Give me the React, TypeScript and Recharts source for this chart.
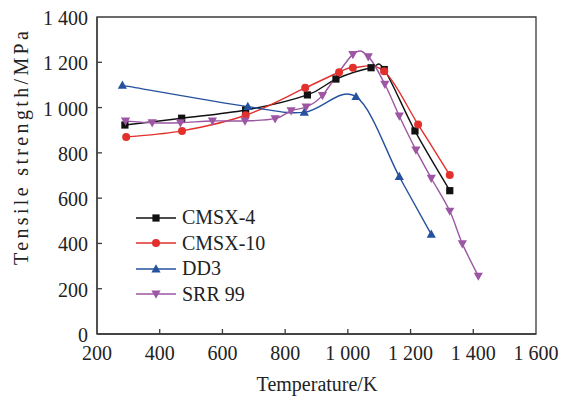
import { LineChart, Line, XAxis, YAxis, ReferenceArea, Label } from 'recharts';

// temperature (K) / tensile strength (MPa)
const cmsx4 = [
  { t: 289, v: 923 }, { t: 470, v: 953 }, { t: 674, v: 989 }, { t: 871, v: 1056 },
  { t: 962, v: 1126 }, { t: 1074, v: 1176 }, { t: 1116, v: 1168 }, { t: 1214, v: 897 },
  { t: 1325, v: 633 },
];
const cmsx10 = [
  { t: 293, v: 870 }, { t: 471, v: 897 }, { t: 674, v: 966 }, { t: 864, v: 1087 },
  { t: 972, v: 1156 }, { t: 1016, v: 1176 }, { t: 1116, v: 1160 }, { t: 1224, v: 925 },
  { t: 1325, v: 702 },
];
const dd3 = [
  { t: 281, v: 1098 }, { t: 681, v: 1004 }, { t: 861, v: 979 }, { t: 1026, v: 1048 },
  { t: 1164, v: 695 }, { t: 1266, v: 440 },
];
const srr99 = [
  { t: 291, v: 941 }, { t: 376, v: 933 }, { t: 466, v: 933 }, { t: 568, v: 941 },
  { t: 672, v: 941 }, { t: 768, v: 951 }, { t: 819, v: 986 }, { t: 867, v: 1003 },
  { t: 919, v: 1054 }, { t: 1016, v: 1235 }, { t: 1065, v: 1225 }, { t: 1118, v: 1103 },
  { t: 1164, v: 963 }, { t: 1217, v: 813 }, { t: 1266, v: 688 }, { t: 1325, v: 543 },
  { t: 1365, v: 399 }, { t: 1416, v: 256 },
];
const xTicks = [200, 400, 600, 800, 1000, 1200, 1400, 1600];
const yTicks = [0, 200, 400, 600, 800, 1000, 1200, 1400];

const FONT = '"Liberation Serif", "Times New Roman", serif';
const AXIS = '#3a3a3a';

const series = [
  { name: 'CMSX-4', data: cmsx4, color: '#111111', shape: 'square' },
  { name: 'CMSX-10', data: cmsx10, color: '#e2302d', shape: 'circle' },
  { name: 'DD3', data: dd3, color: '#25529e', shape: 'up' },
  { name: 'SRR 99', data: srr99, color: '#9c56a3', shape: 'down' },
];

const fmt = (n: number) => String(n).replace(/\B(?=(\d{3})+(?!\d))/g, '\u00a0');

// excel-like smoothed line (catmull-rom style bezier)
function smooth(context: any) {
  let pts: number[][] = [];
  return {
    areaStart() {},
    areaEnd() {},
    lineStart() { pts = []; },
    point(x: number, y: number) { pts.push([+x, +y]); },
    lineEnd() {
      if (!pts.length) return;
      context.moveTo(pts[0][0], pts[0][1]);
      for (let i = 0; i < pts.length - 1; i++) {
        const p0 = pts[i - 1] || pts[i];
        const p1 = pts[i];
        const p2 = pts[i + 1];
        const p3 = pts[i + 2] || p2;
        context.bezierCurveTo(
          p1[0] + (p2[0] - p0[0]) / 6, p1[1] + (p2[1] - p0[1]) / 6,
          p2[0] - (p3[0] - p1[0]) / 6, p2[1] - (p3[1] - p1[1]) / 6,
          p2[0], p2[1],
        );
      }
    },
  };
}

function Marker({ shape, x, y, color }: { shape: string; x: number; y: number; color: string }) {
  if (shape === 'square') return <rect x={x - 3.6} y={y - 3.6} width={7.2} height={7.2} fill={color} />;
  if (shape === 'circle') return <circle cx={x} cy={y} r={4} fill={color} />;
  if (shape === 'up') return <path d={`M${x},${y - 4.8}L${x + 4.6},${y + 3.4}L${x - 4.6},${y + 3.4}Z`} fill={color} />;
  return <path d={`M${x},${y + 4.8}L${x + 4.6},${y - 3.4}L${x - 4.6},${y - 3.4}Z`} fill={color} />;
}

const XTick = ({ x, y, payload }: any) => (
  <g>
    {payload.value !== 200 && payload.value !== 1600 && (
      <line x1={x} y1={y} x2={x} y2={y - 5} stroke={AXIS} strokeWidth={1.3} />
    )}
    <text x={x} y={y + 26} textAnchor="middle" fontFamily={FONT} fontSize={20} fill="#222">
      {fmt(payload.value)}
    </text>
  </g>
);

const YTick = ({ x, y, payload }: any) => (
  <g>
    {payload.value !== 0 && payload.value !== 1400 && (
      <line x1={x} y1={y} x2={x + 5} y2={y} stroke={AXIS} strokeWidth={1.3} />
    )}
    <text x={x - 9} y={y + 8} textAnchor="end" fontFamily={FONT} fontSize={20} fill="#222">
      {fmt(payload.value)}
    </text>
  </g>
);

const LegendBox = () => (
  <div
    style={{
      position: 'absolute', left: 136, top: 205,
      fontFamily: FONT, fontSize: 20, color: '#222', lineHeight: '25.5px',
    }}
  >
    {series.map(s => (
      <div key={s.name} style={{ display: 'flex', alignItems: 'center', height: 25.5 }}>
        <svg width={42} height={14} style={{ marginRight: 4 }}>
          <line x1={0} y1={7} x2={40} y2={7} stroke={s.color} strokeWidth={1.4} />
          <Marker shape={s.shape} x={20} y={7} color={s.color} />
        </svg>
        <span>{s.name}</span>
      </div>
    ))}
  </div>
);

export default function App() {
  return (
    <div style={{ position: 'absolute', left: 0, top: 0, width: 563, height: 396, background: '#fff' }}>
      <LineChart width={563} height={396} margin={{ top: 17, right: 27, left: 0, bottom: 0 }}>
        <XAxis
          type="number"
          dataKey="t"
          domain={[200, 1600]}
          ticks={xTicks}
          allowDataOverflow
          height={62}
          tickSize={0}
          tickMargin={0}
          tickLine={false}
          axisLine={{ stroke: AXIS, strokeWidth: 1.3 }}
          tick={<XTick />}
        >
          <Label
            content={() => (
              <text x={317} y={391} textAnchor="middle" fontFamily={FONT} fontSize={20} fill="#222">
                Temperature/K
              </text>
            )}
          />
        </XAxis>
        <YAxis
          type="number"
          dataKey="v"
          domain={[0, 1400]}
          ticks={yTicks}
          allowDataOverflow
          width={97}
          tickSize={0}
          tickMargin={0}
          tickLine={false}
          axisLine={{ stroke: AXIS, strokeWidth: 1.3 }}
          tick={<YTick />}
        >
          <Label
            content={() => (
              <text
                x={0}
                y={0}
                transform="translate(28,148) rotate(-90)"
                textAnchor="middle"
                fontFamily={FONT}
                fontSize={20}
                fill="#222"
                textLength={234}
                lengthAdjust="spacing"
              >
                Tensile strength/MPa
              </text>
            )}
          />
        </YAxis>
        <ReferenceArea x1={200} x2={1600} y1={0} y2={1400} fill="none" stroke={AXIS} strokeWidth={1.3} />
        {series.map(s => (
          <Line
            key={s.name}
            name={s.name}
            data={s.data}
            dataKey="v"
            type={smooth as any}
            stroke={s.color}
            strokeWidth={1.4}
            isAnimationActive={false}
            dot={(p: any) => <Marker key={`${s.name}-${p.index}`} shape={s.shape} x={p.cx} y={p.cy} color={s.color} />}
          />
        ))}
      </LineChart>
      <LegendBox />
    </div>
  );
}
